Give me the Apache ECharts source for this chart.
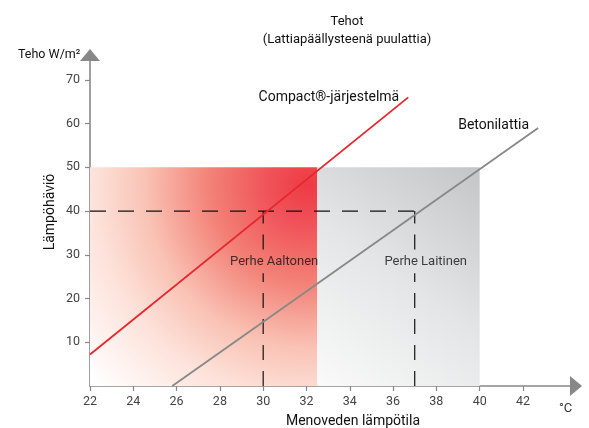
<!DOCTYPE html>
<html>
<head>
<meta charset="utf-8">
<script src="https://cdn.jsdelivr.net/npm/echarts@6/dist/echarts.min.js"></script>
<style>html,body{margin:0;padding:0;background:#fff}#c{width:589px;height:428px}</style>
</head>
<body>
<div id="c"></div>
<script>
// ---- data ----
const xTicks = [22, 24, 26, 28, 30, 32, 34, 36, 38, 40, 42];
const yTicks = [10, 20, 30, 40, 50, 60, 70];
const compactLine = [[22, 7.2], [36.7, 66]];
const betoniLine = [[25.8, 0], [42.7, 59]];
const compactZone = [[22, 0], [32.5, 50]];
const betoniZone = [[32.5, 0], [40, 50]];
const familyNames = ['Perhe Aaltonen', 'Perhe Laitinen'];
const familyTemps = [30, 37];
const familyLoad = 40;
const familyLabelLevel = 28.4;
const seriesNames = ['Compact®-järjestelmä', 'Betonilattia'];

const FONT = 'Roboto';
const TXT = '#111';
const W = 'normal';
const chart = echarts.init(document.getElementById('c'));
const G = echarts.graphic;

const dashStyle = { color: '#111', width: 1.2, type: [16, 12] };
const vDash = { color: '#111', width: 1.2, type: [15, 11] };
const dashSeries = [];
const mk = (data, ls) => ({ type: 'line', silent: true, symbol: 'none', animation: false, lineStyle: ls, data });
dashSeries.push(mk([[xTicks[0], familyLoad], [Math.max(...familyTemps), familyLoad]], dashStyle));
familyTemps.forEach(t => {
  dashSeries.push(mk([[t, 0], [t, familyLabelLevel - 2.6]], vDash));
  dashSeries.push(mk([[t, familyLabelLevel + 2.8], [t, familyLoad]], vDash));
});

chart.setOption({
  animation: false,
  textStyle: { fontFamily: FONT },
  title: {
    text: 'Tehot\n(Lattiapäällysteenä puulattia)',
    left: 342, top: 8, textAlign: 'center',
    textStyle: { fontFamily: FONT, fontSize: 13, fontWeight: W, color: TXT, lineHeight: 18 }
  },
  grid: { left: 90, right: 13, top: 55, bottom: 42, containLabel: false },
  xAxis: {
    type: 'value', min: 22, max: 44.45,
    axisLine: { lineStyle: { color: '#888', width: 1.6 }, symbol: ['none', 'triangle'], symbolSize: [20, 12] },
    axisTick: { customValues: xTicks, length: 5, lineStyle: { color: '#888', width: 1.2 } },
    axisLabel: { customValues: xTicks, color: '#444', fontSize: 12.5, margin: 9, fontFamily: FONT },
    splitLine: { show: false }
  },
  yAxis: {
    type: 'value', min: 0, max: 75.7,
    axisLine: { show: true, lineStyle: { color: '#888', width: 1.6 }, symbol: ['none', 'triangle'], symbolSize: [20, 12] },
    axisTick: { show: true, customValues: yTicks, length: 5, lineStyle: { color: '#888', width: 1.2 } },
    axisLabel: { customValues: yTicks, color: '#444', fontSize: 12.5, margin: 10, fontFamily: FONT },
    splitLine: { show: false }
  },
  graphic: [
    { type: 'text', left: 18, top: 48, style: { text: 'Teho W/m²', fontSize: 12.5, fontWeight: W, fill: TXT, fontFamily: FONT } },
    { type: 'text', left: 559, top: 402, style: { text: '°C', fontSize: 13, fill: '#333', fontFamily: FONT } },
    { type: 'text', x: 353, y: 421, style: { text: 'Menoveden lämpötila', fontSize: 14, fontWeight: W, fill: TXT, fontFamily: FONT, align: 'center', verticalAlign: 'middle' } },
    { type: 'text', x: 50, y: 212, rotation: Math.PI / 2, style: { text: 'Lämpöhäviö', fontSize: 14, fontWeight: W, fill: TXT, fontFamily: FONT, align: 'center', verticalAlign: 'middle' } }
  ],
  series: [
    {
      type: 'line', silent: true, symbol: 'none', data: [],
      markArea: {
        silent: true,
        data: [
          [{ coord: compactZone[0], itemStyle: { color: new G.RadialGradient(0.96, 0.08, 1.4, [
            { offset: 0, color: '#ee3a44' }, { offset: 0.14, color: '#f0545a' }, { offset: 0.32, color: '#f38177' },
            { offset: 0.53, color: '#f9c2b4' }, { offset: 0.7, color: '#fde2da' }, { offset: 0.95, color: '#ffffff' }]) } },
           { coord: compactZone[1] }],
          [{ coord: betoniZone[0], itemStyle: { color: new G.LinearGradient(0, 1, 1, 0, [
            { offset: 0, color: '#fafafa' }, { offset: 0.5, color: '#e4e5e6' }, { offset: 1, color: '#c4c5c7' }]) } },
           { coord: betoniZone[1] }]
        ]
      }
    },
    ...dashSeries,
    {
      type: 'line', name: seriesNames[0], symbol: 'circle', symbolSize: 0.1, showSymbol: true, silent: true,
      lineStyle: { color: '#e8262e', width: 1.8 },
      data: [compactLine[0], { value: compactLine[1], label: { show: true, position: 'left', distance: 9, formatter: seriesNames[0], color: TXT, fontSize: 14, fontWeight: W, fontFamily: FONT } }]
    },
    {
      type: 'line', name: seriesNames[1], symbol: 'circle', symbolSize: 0.1, showSymbol: true, silent: true,
      lineStyle: { color: '#888', width: 1.8 },
      data: [betoniLine[0], { value: betoniLine[1], label: { show: true, position: 'left', distance: 9, offset: [0, -3], formatter: seriesNames[1], color: TXT, fontSize: 14, fontWeight: W, fontFamily: FONT } }]
    },
    {
      type: 'scatter', symbolSize: 0, silent: true,
      data: familyTemps.map((t, i) => ({ value: [t, familyLabelLevel], name: familyNames[i] })),
      label: { show: true, position: 'inside', offset: [11, 0], formatter: p => p.name, color: TXT, fontSize: 13, fontWeight: W, fontFamily: FONT }
    }
  ]
});
</script>
</body>
</html>
